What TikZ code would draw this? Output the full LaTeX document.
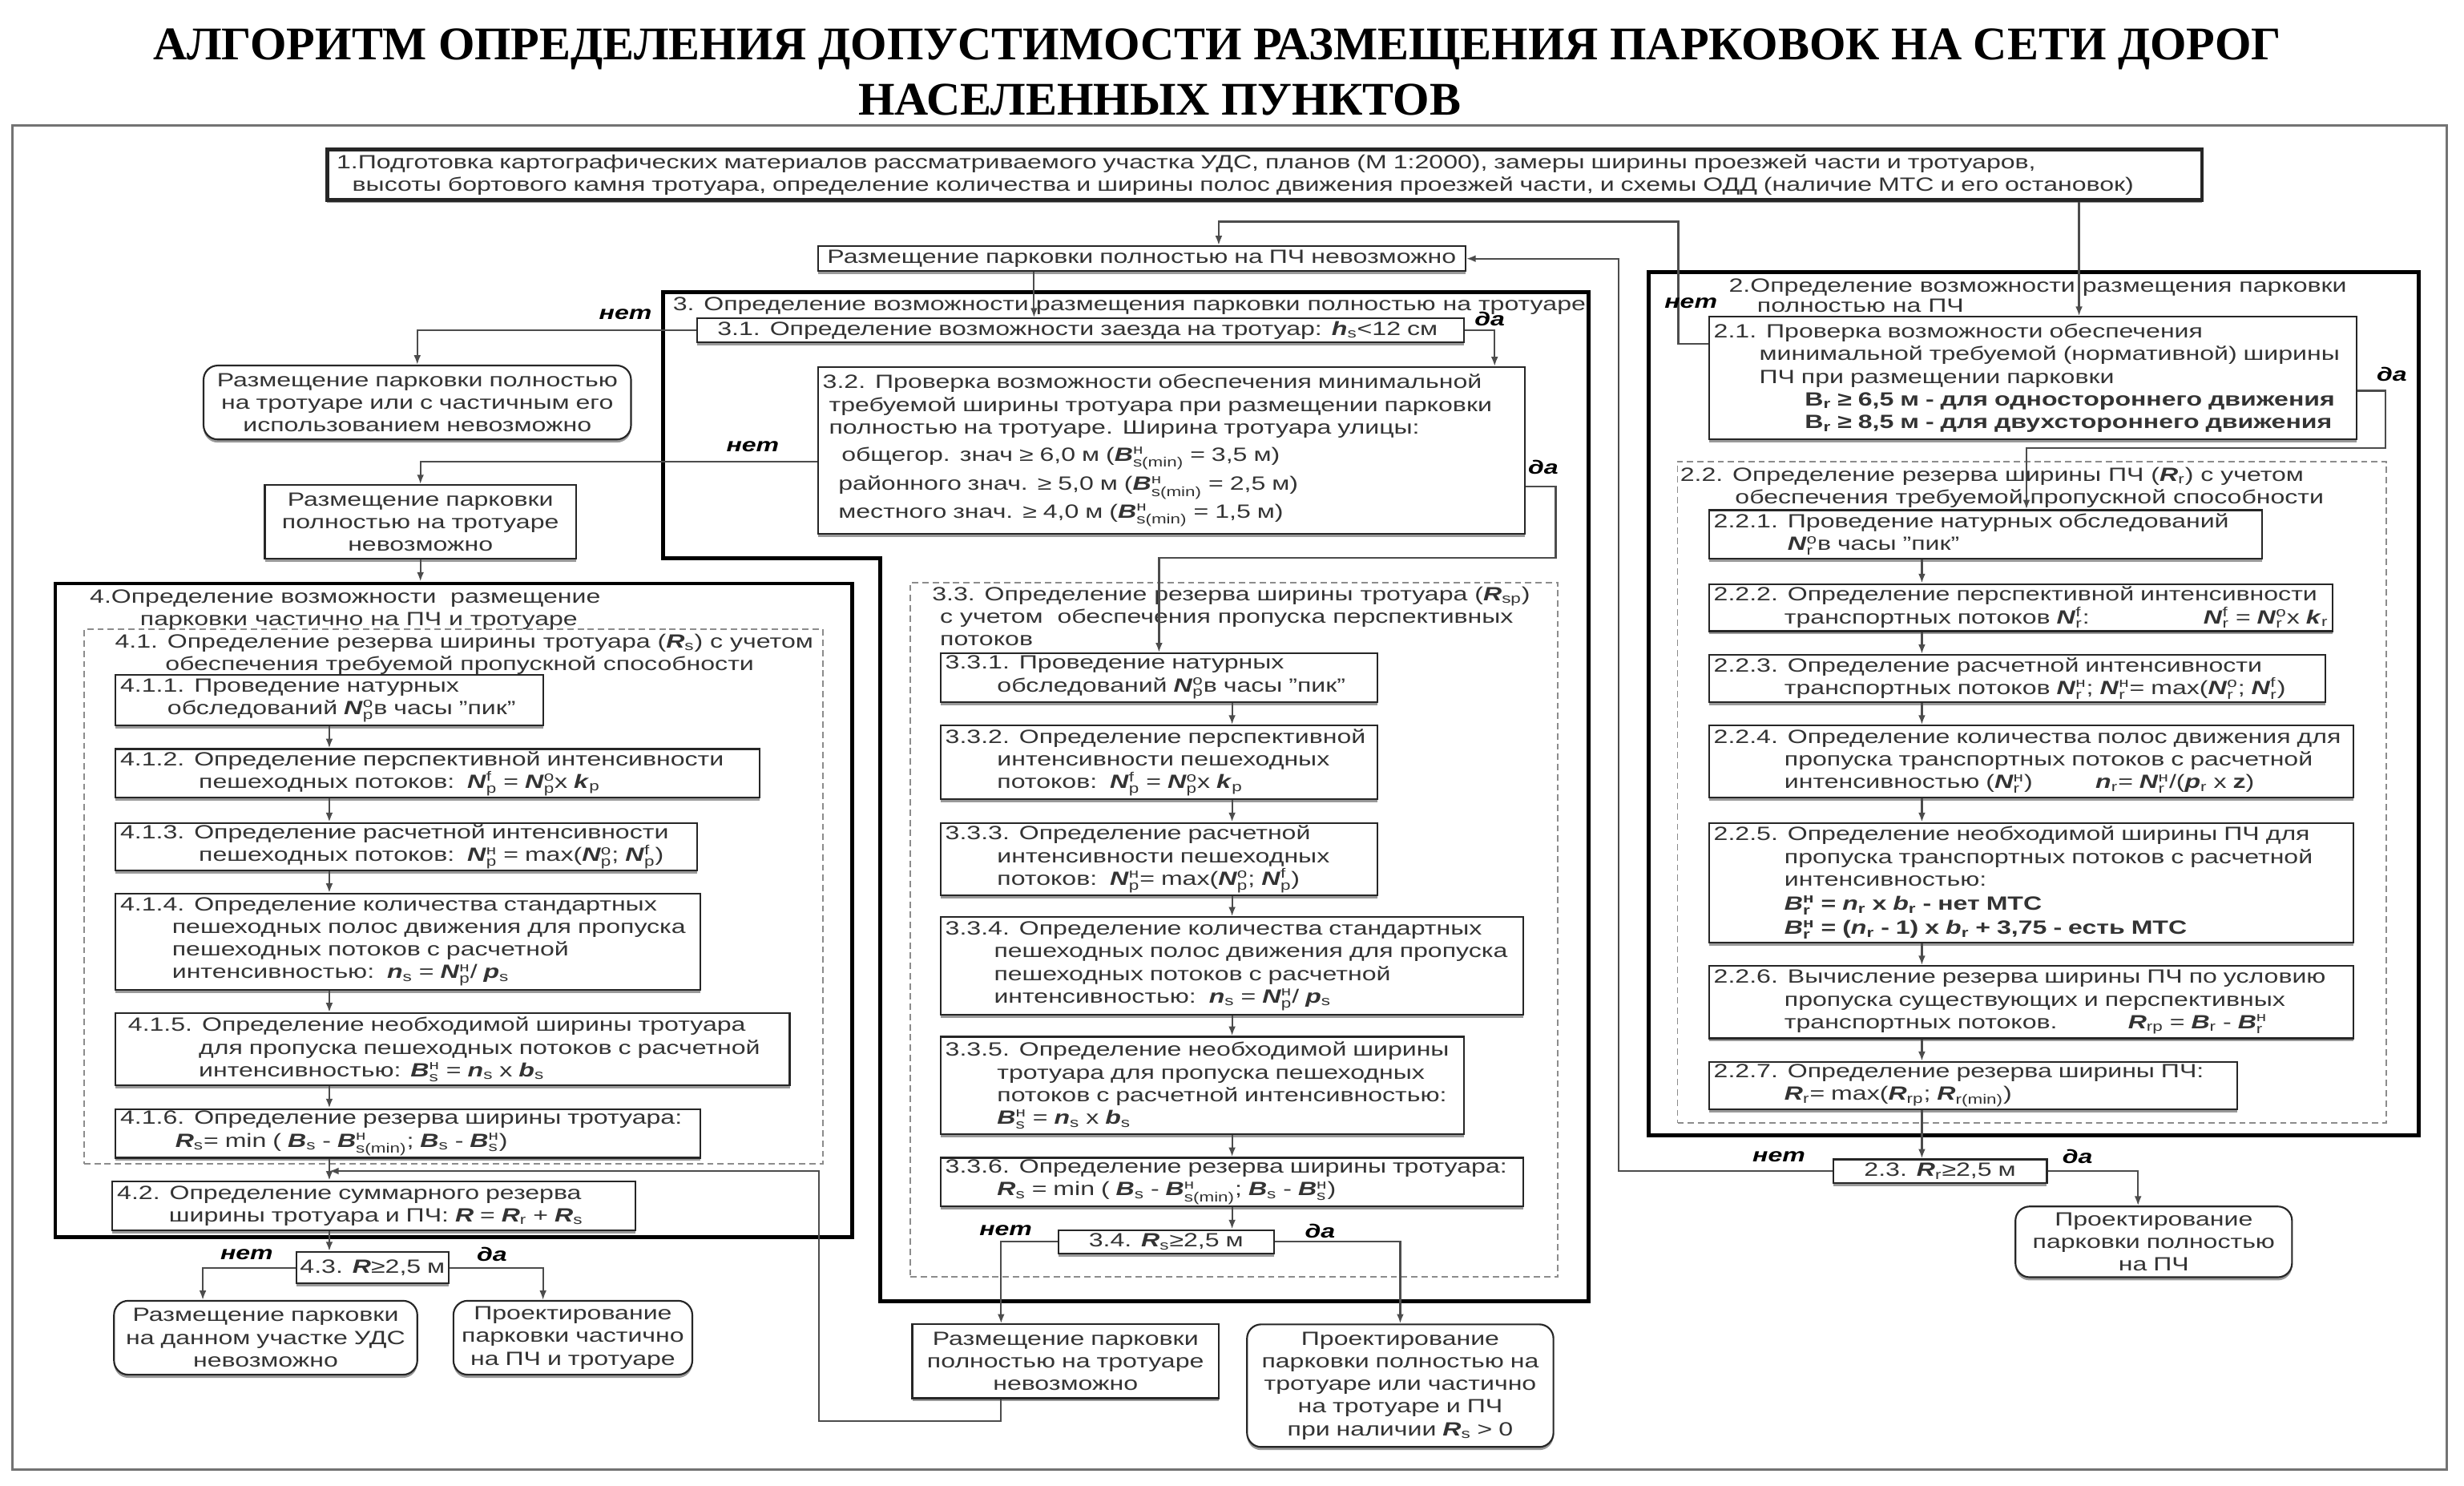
\documentclass[tikz,border=0pt]{standalone}
\usepackage{amsmath}
\usepackage{fontspec}
\setmainfont{Liberation Sans}[FakeStretch=1.34]
\newfontfamily\titlefont{Liberation Serif}
\usetikzlibrary{arrows.meta, positioning, shadows}
\newcommand\vr[3]{\textbf{\textit{#1}}$_{\text{#2}}^{\text{#3}}$}
\newcommand\vs[2]{\textbf{\textit{#1}}$_{\text{#2}}$}
\newcommand\boxfont{\fontsize{12.2}{14.4}\selectfont}

\begin{document}
\begin{tikzpicture}[
  x=1pt, y=-1pt,
  bx/.style={draw=black!85, line width=1.1pt, fill=white, anchor=north west, align=left,
             inner xsep=3pt, inner ysep=1pt, font=\boxfont, text=black!80,
             drop shadow={shadow xshift=0pt, shadow yshift=-2pt, fill=black!40, opacity=1}},
  rb/.style={bx, rounded corners=9pt, align=center},
  fr/.style={draw=black, line width=2.4pt, anchor=north west, inner sep=0pt},
  dfr/.style={draw=black!45, line width=1pt, dash pattern=on 4pt off 2.5pt, anchor=north west, inner sep=0pt},
  ftitle/.style={anchor=north west, align=left, inner sep=0pt, font=\boxfont, text=black!80},
  arr/.style={-{Latex[length=6pt,width=4.5pt]}, line width=1.1pt, draw=black!70},
  lbl/.style={font=\boxfont\bfseries\itshape, inner sep=0pt},
  ttl/.style={font=\titlefont\fontsize{29.8}{32}\selectfont\bfseries, anchor=base, inner sep=0pt}
]
\useasboundingbox (0,0) rectangle (1568,945);

% Title
\node[ttl] (ttl1) at (774.5,38) {АЛГОРИТМ ОПРЕДЕЛЕНИЯ ДОПУСТИМОСТИ РАЗМЕЩЕНИЯ ПАРКОВОК НА СЕТИ ДОРОГ};
\node[ttl] (ttl2) at (738,73) {НАСЕЛЕННЫХ ПУНКТОВ};
\draw[black!55, line width=1.5pt] (8,80) rectangle (1557,935);

% Frames
\node[fr, minimum width=507pt, minimum height=416pt] (f4) at (34,370) {};
\node[fr, minimum width=490pt, minimum height=549pt] (f2) at (1048,172) {};
\draw[line width=2.4pt] (422,186) -- (1011,186) -- (1011,828) -- (560,828) -- (560,355) -- (422,355) -- cycle;
\node[dfr, minimum width=470pt, minimum height=340pt] (f41) at (53,400) {};
\node[dfr, minimum width=412pt, minimum height=442pt] (f33) at (579,370) {};
\node[dfr, minimum width=451pt, minimum height=421pt] (f22) at (1067,293) {};

\node[ftitle] (f3t) at (428,189) {3. Определение возможности размещения парковки полностью на тротуаре};
\node[ftitle] (f4t) at (57,375) {4.Определение возможности\ \ размещение\\\hspace*{32pt}парковки частично на ПЧ и тротуаре};
\node[ftitle] (f41t) at (73,403) {4.1. Определение резерва ширины тротуара (\vs{R}{s}) с учетом\\\hspace*{32pt}обеспечения требуемой пропускной способности};
\node[ftitle] (f33t) at (593,373) {3.3. Определение резерва ширины тротуара (\vs{R}{sp})\\\hspace*{5pt}с учетом\ \ обеспечения пропуска перспективных\\\hspace*{5pt}потоков};
\node[ftitle, font=\fontsize{12.2}{12.8}\selectfont] (f2t) at (1100,177) {2.Определение возможности размещения парковки\\\hspace*{18pt}полностью на ПЧ};
\node[ftitle] (f22t) at (1069,297) {2.2. Определение резерва ширины ПЧ (\vs{R}{r}) с учетом\\\hspace*{35pt}обеспечения требуемой пропускной способности};

% Top row
\node[bx, text width=1181pt, minimum height=32pt, line width=2.4pt, inner xsep=6pt] (b1) at (207,94) {1.Подготовка картографических материалов рассматриваемого участка УДС, планов (М 1:2000), замеры ширины проезжей части и тротуаров,\\\hspace*{10pt}высоты бортового камня тротуара, определение количества и ширины полос движения проезжей части, и схемы ОДД (наличие МТС и его остановок)};
\node[bx, text width=406pt, minimum height=16pt, align=center] (pchno) at (520,156) {Размещение парковки полностью на ПЧ невозможно};

% Column 3: sidewalk
\node[bx, text width=482pt, minimum height=15pt] (s31) at (443,202) {\hspace*{10pt}3.1. Определение возможности заезда на тротуар: \vs{h}{s}<12 см};
\node[bx, text width=444pt, minimum height=106pt] (s32) at (520,233) {3.2. Проверка возможности обеспечения минимальной\\\hspace*{4pt}требуемой ширины тротуара при размещении парковки\\\hspace*{4pt}полностью на тротуаре. Ширина тротуара улицы:\\[3pt]\hspace*{12pt}общегор. знач ≥ 6,0 м (\vr{B}{s(min)}{н} = 3,5 м)\\[3pt]\hspace*{10pt}районного знач. ≥ 5,0 м (\vr{B}{s(min)}{н} = 2,5 м)\\[3pt]\hspace*{10pt}местного знач. ≥ 4,0 м (\vr{B}{s(min)}{н} = 1,5 м)};
\node[rb, text width=266pt, minimum height=47pt] (rA) at (129,232) {Размещение парковки полностью\\на тротуаре или с частичным его\\использованием невозможно};
\node[bx, align=center, text width=192pt, minimum height=47pt] (bB) at (168,308) {Размещение парковки\\полностью на тротуаре\\невозможно};

% Column 4: partial
\node[bx, text width=266pt, minimum height=32pt] (s411) at (73,429) {4.1.1. Проведение натурных\\\hspace*{30pt}обследований \vr{N}{p}{o}в часы "пик"};
\node[bx, text width=404pt, minimum height=31pt] (s412) at (73,476) {4.1.2. Определение перспективной интенсивности\\\hspace*{50pt}пешеходных потоков:\ \ \vr{N}{p}{f} = \vr{N}{p}{o}x \vs{k}{p}};
\node[bx, text width=364pt, minimum height=29pt] (s413) at (73,523) {4.1.3. Определение расчетной интенсивности\\\hspace*{50pt}пешеходных потоков:\ \ \vr{N}{p}{н} = max(\vr{N}{p}{o}; \vr{N}{p}{f})};
\node[bx, text width=366pt, minimum height=61pt] (s414) at (73,568) {4.1.4. Определение количества стандартных\\\hspace*{33pt}пешеходных полос движения для пропуска\\\hspace*{33pt}пешеходных потоков с расчетной\\\hspace*{33pt}интенсивностью:\ \ \vs{n}{s} = \vr{N}{p}{н}/ \vs{p}{s}};
\node[bx, text width=423pt, minimum height=46pt] (s415) at (73,644) {\hspace*{5pt}4.1.5. Определение необходимой ширины тротуара\\\hspace*{50pt}для пропуска пешеходных потоков с расчетной\\\hspace*{50pt}интенсивностью: \vr{B}{s}{н} = \vs{n}{s} x \vs{b}{s}};
\node[bx, text width=366pt, minimum height=31pt] (s416) at (73,705) {4.1.6. Определение резерва ширины тротуара:\\\hspace*{35pt}\vs{R}{s}= min ( \vs{B}{s} - \vr{B}{s(min)}{н}; \vs{B}{s} - \vr{B}{s}{н})};
\node[bx, text width=327pt, minimum height=31pt] (s42) at (71,751) {4.2. Определение суммарного резерва\\\hspace*{33pt}ширины тротуара и ПЧ: \textbf{\textit{R}} = \vs{R}{r} + \vs{R}{s}};
\node[bx, text width=95pt, minimum height=20pt, inner xsep=1pt, align=center] (s43) at (188,796) {\mbox{4.3. \textbf{\textit{R}}≥2,5 м}};
\node[rb, text width=187pt, minimum height=47pt] (rC) at (72,827) {Размещение парковки\\на данном участке УДС\\невозможно};
\node[rb, text width=146pt, minimum height=47pt] (rD) at (288,827) {Проектирование\\парковки частично\\на ПЧ и тротуаре};

% Column 3.3
\node[bx, text width=272pt, minimum height=31pt] (s331) at (598,415) {3.3.1. Проведение натурных\\\hspace*{33pt}обследований \vr{N}{p}{o}в часы "пик"};
\node[bx, text width=272pt, minimum height=47pt] (s332) at (598,461) {3.3.2. Определение перспективной\\\hspace*{33pt}интенсивности пешеходных\\\hspace*{33pt}потоков:\ \ \vr{N}{p}{f} = \vr{N}{p}{o}x \vs{k}{p}};
\node[bx, text width=272pt, minimum height=46pt] (s333) at (598,523) {3.3.3. Определение расчетной\\\hspace*{33pt}интенсивности пешеходных\\\hspace*{33pt}потоков:\ \ \vr{N}{p}{н}= max(\vr{N}{p}{o}; \vr{N}{p}{f})};
\node[bx, text width=365pt, minimum height=62pt] (s334) at (598,583) {3.3.4. Определение количества стандартных\\\hspace*{31pt}пешеходных полос движения для пропуска\\\hspace*{31pt}пешеходных потоков с расчетной\\\hspace*{31pt}интенсивностью:\ \ \vs{n}{s} = \vr{N}{p}{н}/ \vs{p}{s}};
\node[bx, text width=327pt, minimum height=62pt] (s335) at (598,659) {3.3.5. Определение необходимой ширины\\\hspace*{33pt}тротуара для пропуска пешеходных\\\hspace*{33pt}потоков с расчетной интенсивностью:\\\hspace*{33pt}\vr{B}{s}{н} = \vs{n}{s} x \vs{b}{s}};
\node[bx, text width=365pt, minimum height=31pt] (s336) at (598,736) {3.3.6. Определение резерва ширины тротуара:\\\hspace*{33pt}\vs{R}{s} = min ( \vs{B}{s} - \vr{B}{s(min)}{н}; \vs{B}{s} - \vr{B}{s}{н})};
\node[bx, text width=131pt, minimum height=15pt, align=center] (s34) at (673,782) {\mbox{3.4. \vs{R}{s}≥2,5 м}};
\node[bx, align=center, text width=189pt, minimum height=47pt] (bE) at (580,842) {Размещение парковки\\полностью на тротуаре\\невозможно};
\node[rb, text width=189pt, minimum height=78pt] (rF) at (793,842) {Проектирование\\парковки полностью на\\тротуаре или частично\\на тротуаре и ПЧ\\при наличии \vs{R}{s} > 0};

% Column 2: roadway
\node[bx, text width=406pt, minimum height=78pt] (s21) at (1087,201) {2.1. Проверка возможности обеспечения\\\hspace*{29pt}минимальной требуемой (нормативной) ширины\\\hspace*{29pt}ПЧ при размещении парковки\\\hspace*{58pt}\textbf{B$_{\text{r}}$ ≥ 6,5 м - для одностороннего движения}\\\hspace*{58pt}\textbf{B$_{\text{r}}$ ≥ 8,5 м - для двухстороннего движения}};
\node[bx, text width=346pt, minimum height=31pt] (s221) at (1087,324) {2.2.1. Проведение натурных обследований\\\hspace*{47pt}\vr{N}{r}{o}в часы "пик"};
\node[bx, text width=391pt, minimum height=30pt] (s222) at (1087,371) {2.2.2. Определение перспективной интенсивности\\\hspace*{45pt}транспортных потоков \vr{N}{r}{f}:\hfill\vr{N}{r}{f} = \vr{N}{r}{o}x \vs{k}{r}};
\node[bx, text width=386pt, minimum height=30pt] (s223) at (1087,416) {2.2.3. Определение расчетной интенсивности\\\hspace*{45pt}транспортных потоков \vr{N}{r}{н}; \vr{N}{r}{н}= max(\vr{N}{r}{o}; \vr{N}{r}{f})};
\node[bx, text width=404pt, minimum height=46pt] (s224) at (1087,461) {2.2.4. Определение количества полос движения для\\\hspace*{45pt}пропуска транспортных потоков с расчетной\\\hspace*{45pt}интенсивностью (\vr{N}{r}{н})\hspace{40pt}\vs{n}{r}= \vr{N}{r}{н}/(\vs{p}{r} x \textbf{z})};
\node[bx, text width=404pt, minimum height=76pt] (s225) at (1087,523) {2.2.5. Определение необходимой ширины ПЧ для\\\hspace*{45pt}пропуска транспортных потоков с расчетной\\\hspace*{45pt}интенсивностью:\\[1pt]\hspace*{45pt}\textbf{\vr{B}{r}{н} = \vs{n}{r} x \vs{b}{r} - нет МТС}\\[1pt]\hspace*{45pt}\textbf{\vr{B}{r}{н} = (\vs{n}{r} - 1) x \vs{b}{r} + 3,75 - есть МТС}};
\node[bx, text width=404pt, minimum height=46pt] (s226) at (1087,614) {2.2.6. Вычисление резерва ширины ПЧ по условию\\\hspace*{45pt}пропуска существующих и перспективных\\\hspace*{45pt}транспортных потоков.\hspace{45pt}\vs{R}{rp} = \vs{B}{r} - \vr{B}{r}{н}};
\node[bx, text width=330pt, minimum height=30pt] (s227) at (1087,675) {2.2.7. Определение резерва ширины ПЧ:\\\hspace*{45pt}\vs{R}{r}= max(\vs{R}{rp}; \vs{R}{r(min)})};
\node[bx, text width=130pt, minimum height=15pt, align=center] (s23) at (1166,737) {\mbox{2.3. \vs{R}{r}≥2,5 м}};
\node[rb, text width=170pt, minimum height=45pt] (rG) at (1282,767) {Проектирование\\парковки полностью\\на ПЧ};

% Bend points
\coordinate (x21) at (1323,0);
\coordinate (n21) at (1068,141);
\coordinate (n23) at (1030,0);
\coordinate (c3x) at (658,0);
\coordinate (d32) at (990,355);
\coordinate (d21) at (1518,285);
\coordinate (c22x) at (1223,0);
\coordinate (lpA) at (521,904);
\coordinate (lpB) at (521,745);

% Arrows
\draw[arr] (b1.south -| x21) -- (s21.north -| x21);
\draw[arr] ([yshift=22pt]s21.west) -| (n21) -| ([xshift=49pt]pchno.north);
\draw[arr] (s23.west) -| (n23 |- pchno.east) -- (pchno.east);
\draw[arr] (pchno.south -| c3x) -- (s31.north -| c3x);
\draw[arr] (s31.east) -| ([xshift=-20pt]s32.north east);
\draw[arr] (s31.west) -| (rA.north);
\draw[arr] ([yshift=-7pt]s32.west) -| (bB.north);
\draw[arr] (bB.south) -- (bB.south |- f4.north);
\draw[arr] ([yshift=-23pt]s32.east) -| (d32) -| (s331.north);
\foreach \a/\b in {s411/s412, s412/s413, s413/s414, s414/s415, s415/s416, s416/s42, s42/s43}
  \draw[arr] (\a.south -| s411.south) -- (\b.north -| s411.south);
\draw[arr] (s43.west) -| ([xshift=-40pt]rC.north);
\draw[arr] (s43.east) -| ([xshift=-19pt]rD.north);
\foreach \a/\b in {s331/s332, s332/s333, s333/s334, s334/s335, s335/s336, s336/s34}
  \draw[arr] (\a.south -| s336.south) -- (\b.north -| s336.south);
\draw[arr] (s34.west) -| ([xshift=-41pt]bE.north);
\draw[arr] (s34.east) -| (rF.north);
\draw[arr] ([xshift=-41pt]bE.south) |- (lpA) -- (lpB) -- (lpB -| s411.south);
\draw[arr] ([yshift=-8pt]s21.east) -| (d21) -| ([xshift=26pt]s221.north);
\foreach \a/\b in {s221/s222, s222/s223, s223/s224, s224/s225, s225/s226, s226/s227, s227/s23}
  \draw[arr] (\a.south -| c22x) -- (\b.north -| c22x);
\draw[arr] (s23.east) -| ([xshift=-10pt]rG.north);

% Labels
\node[lbl] (l31n) at (398,200) {нет};
\node[lbl] (l31d) at (948,203) {да};
\node[lbl] (l32n) at (479,284) {нет};
\node[lbl] (l32d) at (982,297) {да};
\node[lbl] (l21n) at (1076,193) {нет};
\node[lbl] (l21d) at (1522,238) {да};
\node[lbl] (l43n) at (157,798) {нет};
\node[lbl] (l43d) at (313,798) {да};
\node[lbl] (l34n) at (640,783) {нет};
\node[lbl] (l34d) at (840,783) {да};
\node[lbl] (l23n) at (1132,736) {нет};
\node[lbl] (l23d) at (1322,736) {да};

\end{tikzpicture}
\end{document}
